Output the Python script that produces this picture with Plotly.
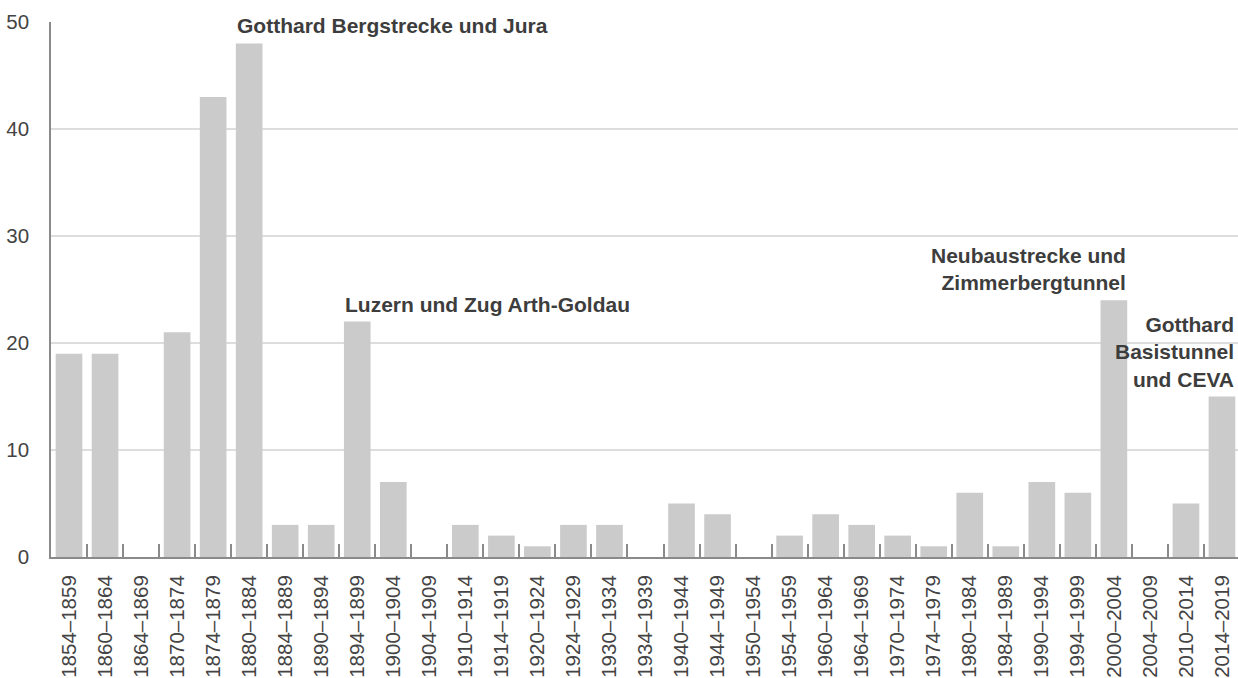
import plotly.graph_objects as go

# periods and number of new tunnels / lines per period
periods = [
    '1854–1859', '1860–1864', '1864–1869', '1870–1874', '1874–1879', '1880–1884',
    '1884–1889', '1890–1894', '1894–1899', '1900–1904', '1904–1909', '1910–1914',
    '1914–1919', '1920–1924', '1924–1929', '1930–1934', '1934–1939', '1940–1944',
    '1944–1949', '1950–1954', '1954–1959', '1960–1964', '1964–1969', '1970–1974',
    '1974–1979', '1980–1984', '1984–1989', '1990–1994', '1994–1999', '2000–2004',
    '2004–2009', '2010–2014', '2014–2019',
]
counts = [19, 19, 0, 21, 43, 48, 3, 3, 22, 7, 0, 3, 2, 1, 3, 3, 0, 5, 4, 0,
          2, 4, 3, 2, 1, 6, 1, 7, 6, 24, 0, 5, 15]

y_ticks = [0, 10, 20, 30, 40, 50]
grid_values = [10, 20, 30, 40]

# (period, text, side)
labels = [
    ('1880–1884', 'Gotthard Bergstrecke und Jura', 'left'),
    ('1894–1899', 'Luzern und Zug Arth-Goldau', 'left'),
    ('2000–2004', 'Neubaustrecke und<br>Zimmerbergtunnel', 'right'),
    ('2014–2019', 'Gotthard<br>Basistunnel<br>und CEVA', 'right'),
]

FONT = 'Liberation Sans, Arial, sans-serif'
BAR = '#cbcbcb'
AXIS = '#8a8a8a'

fig = go.Figure(go.Bar(x=periods, y=counts, marker_color=BAR, marker_line_width=0))

for g in grid_values:
    fig.add_shape(type='line', xref='paper', yref='y', x0=0, x1=1, y0=g, y1=g,
                  line=dict(color='#d2d2d2', width=1.5), layer='below')

value_of = dict(zip(periods, counts))
for per, txt, side in labels:
    fig.add_annotation(
        x=per, y=value_of[per], xref='x', yref='y', text='<b>' + txt + '</b>',
        showarrow=False, xanchor=side, yanchor='bottom', align=side,
        xshift=-14 if side == 'left' else 14, yshift=4,
        font=dict(family=FONT, size=21, color='#3d3d3d'),
    )

fig.update_layout(
    width=1238, height=678,
    margin=dict(l=51, r=0, t=22, b=121),
    plot_bgcolor='white', paper_bgcolor='white',
    bargap=0.26, showlegend=False,
    font=dict(family=FONT, color='#444444'),
)
fig.update_xaxes(
    range=[-0.5, 32.445], tickangle=-90, tickfont=dict(size=20.5, color='#444444'),
    showline=True, linecolor=AXIS, linewidth=2,
    ticks='inside', tickson='boundaries', ticklen=13, tickcolor=AXIS, tickwidth=1.5,
    ticklabelstandoff=8, showgrid=False,
)
fig.update_yaxes(
    range=[0, 50], tickvals=y_ticks, tickfont=dict(size=20.5, color='#444444'),
    showline=True, linecolor=AXIS, linewidth=1.5, showgrid=False, zeroline=False,
    ticks='', ticklabelstandoff=16,
)

# page has a default 8px body margin; drop it so the figure fills the window
fig.write_html('out.html', config={'displayModeBar': False},
               post_script="document.body.style.margin='0';")
